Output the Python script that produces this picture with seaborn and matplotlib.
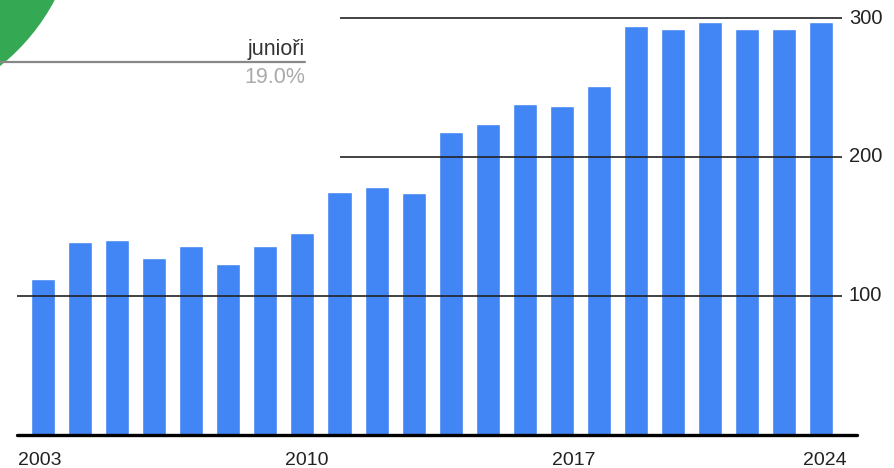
import matplotlib
matplotlib.use("Agg")
import matplotlib.pyplot as plt
from matplotlib.patches import Circle
import seaborn as sns
import pandas as pd

# Yearly counts
years = list(range(2003, 2025))
values = [112, 139, 140, 127, 136, 123, 136, 145, 175, 178, 174,
          218, 224, 238, 237, 251, 294, 292, 297, 292, 292, 297]
tick_years = ["2003", "2010", "2017", "2024"]
y_ticks = [100, 200, 300]
share_label = "junioři"
share_value = "19.0%"

BLUE = "#4285F4"
GREEN = "#34A853"

sns.set_theme(style="white")
plt.rcParams["font.family"] = ["Liberation Sans", "DejaVu Sans"]

W, H = 894, 468
fig = plt.figure(figsize=(W / 100, H / 100), dpi=100)

# axes spans pixel x 17..857, baseline at y=434.5 px
ax_left, ax_right = 17, 857
ax_bottom_px = 434.5
ax = fig.add_axes([ax_left / W, (H - ax_bottom_px) / H,
                   (ax_right - ax_left) / W, ax_bottom_px / H])

df = pd.DataFrame({"year": [str(y) for y in years], "value": values})
sns.barplot(data=df, x="year", y="value", color=BLUE, saturation=1,
            width=0.65, ax=ax, zorder=2)

ax.set_xlim(-0.70, 21.96)
ax.set_ylim(0, 313)
for s in ax.spines.values():
    s.set_visible(False)
ax.set_xlabel("")
ax.set_ylabel("")
ax.set_yticks([])
ax.tick_params(axis="x", length=0, pad=12.5)

# year labels
idx = {str(y): i for i, y in enumerate(years)}
tick_pos = [idx["2003"] - 0.08, idx["2010"] + 0.12, idx["2017"] + 0.32, idx["2024"] + 0.1]
ax.set_xticks(tick_pos)
ax.set_xticklabels(tick_years, fontsize=14, color="#222222")

# gridlines drawn over the bars
for v in y_ticks:
    x0 = -0.70 if v == 100 else 8.01
    ax.hlines(v, x0, 21.55, color="#222222", linewidth=1.2, zorder=3)
    ax.text((849 - ax_left) / (ax_right - ax_left), v, str(v),
            transform=ax.get_yaxis_transform(), ha="left", va="center",
            fontsize=14.5, color="#222222", clip_on=False)

# baseline
ax.axhline(0, color="black", linewidth=2.4, zorder=4, clip_on=False)

# pie slice peeking into the corner
def fx(px):
    return px / W

def fy(py):
    return 1 - py / H

# display coordinates (pixels from bottom-left)
circle = Circle((-131.5, H + 98.5), 210, transform=None, color=GREEN,
                zorder=0)
fig.patches.append(circle)

# legend label for the slice
fig.add_artist(plt.Line2D([0, fx(305)], [fy(62), fy(62)], color="#888888",
                          linewidth=1.6, transform=fig.transFigure))
fig.text(fx(305), fy(55), share_label, ha="right", va="baseline",
         fontsize=15.5, color="#333333")
fig.text(fx(305), fy(83), share_value, ha="right", va="baseline",
         fontsize=15.5, color="#aaaaaa")

fig.savefig("out.png", dpi=100)
